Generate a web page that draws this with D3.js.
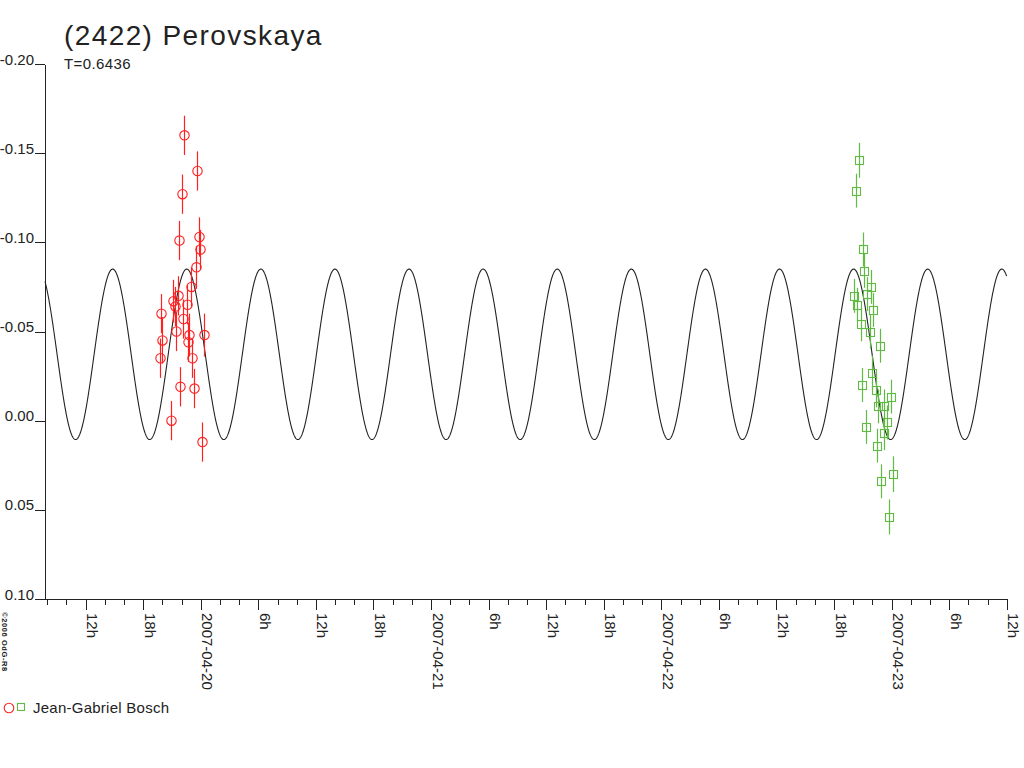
<!DOCTYPE html>
<html>
<head>
<meta charset="utf-8">
<script src="https://cdn.jsdelivr.net/npm/d3@7"></script>
<style>
  body { margin: 0; background: #fff; }
  svg { display: block; font-family: "Liberation Sans", Arial, sans-serif; }
  .axis path, .axis line { stroke: #222; shape-rendering: crispEdges; }
  .axis text { fill: #222; font-size: 15px; }
</style>
</head>
<body>
<div class="container"></div>
<script>
const WIDTH = 1024;
const HEIGHT = 768;

// observer 1 (red circles), night of 2007-04-19/20, UTC
const redTimes = [
  '2007-04-19T22:18', '2007-04-19T23:37', '2007-04-19T22:01', '2007-04-19T21:44',
  '2007-04-19T23:49', '2007-04-19T23:58', '2007-04-19T23:29', '2007-04-19T22:56',
  '2007-04-19T21:38', '2007-04-19T21:07', '2007-04-19T21:16', '2007-04-19T22:31',
  '2007-04-19T19:54', '2007-04-19T22:09', '2007-04-19T22:47', '2007-04-20T00:19',
  '2007-04-19T19:58', '2007-04-19T22:40', '2007-04-19T21:23', '2007-04-19T19:43',
  '2007-04-19T23:05', '2007-04-19T21:53', '2007-04-19T23:18', '2007-04-19T20:54',
  '2007-04-20T00:08'
];
const redMags = [
  -0.160, -0.140, -0.127, -0.101, -0.103, -0.096, -0.086, -0.075,
  -0.070, -0.067, -0.064, -0.065, -0.060, -0.057, -0.048, -0.048,
  -0.045, -0.044, -0.050, -0.035, -0.035, -0.019, -0.018, 0.000,
  0.012
];
const redErrs = [
  0.011, 0.011, 0.011, 0.011, 0.011, 0.011, 0.012, 0.011,
  0.011, 0.012, 0.011, 0.011, 0.011, 0.011, 0.012, 0.012,
  0.013, 0.011, 0.011, 0.011, 0.011, 0.011, 0.011, 0.011,
  0.011
];

// night of 2007-04-22/23 (green squares)
const greenTimes = [
  '2007-04-22T20:35', '2007-04-22T20:17', '2007-04-22T21:03', '2007-04-22T21:09',
  '2007-04-22T20:08', '2007-04-22T20:25', '2007-04-22T21:49', '2007-04-22T21:28',
  '2007-04-22T22:05', '2007-04-22T20:46', '2007-04-22T21:43', '2007-04-22T22:45',
  '2007-04-22T20:54', '2007-04-22T21:59', '2007-04-22T22:20', '2007-04-22T22:34',
  '2007-04-22T23:54', '2007-04-22T23:12', '2007-04-22T23:29', '2007-04-22T21:22',
  '2007-04-22T23:12', '2007-04-22T22:31', '2007-04-23T00:07', '2007-04-22T22:56',
  '2007-04-22T23:43'
];
const greenMags = [
  -0.146, -0.129, -0.096, -0.084, -0.070, -0.065, -0.075, -0.071,
  -0.062, -0.054, -0.050, -0.042, -0.020, -0.027, -0.017, -0.008,
  -0.0135, -0.008, 0.001, 0.0035, 0.007, 0.014, 0.030, 0.034,
  0.054
];
const greenErrs = [
  0.0098, 0.0095, 0.0095, 0.0095, 0.0095, 0.0095, 0.0095, 0.0095,
  0.0095, 0.0095, 0.0095, 0.0095, 0.0095, 0.0095, 0.0095, 0.0095,
  0.0095, 0.0095, 0.0095, 0.0095, 0.0095, 0.0095, 0.0100, 0.0095,
  0.0098
];

const yTicks = [-0.20, -0.15, -0.10, -0.05, 0.00, 0.05, 0.10];
const yTickLabels = ['-0.20', '-0.15', '-0.10', '-0.05', '0.00', '0.05', '0.10'];

// fitted lightcurve (two maxima per rotation period)
const PERIOD_DAYS = 0.6436;
const CURVE_MEAN = -0.0372;
const CURVE_AMP = 0.0478;
const CURVE_TROUGH = '2007-04-21T01:34';

const parse = d3.utcParse('%Y-%m-%dT%H:%M');

var redData = redTimes.map(function(t, i) {
  return {t: parse(t), m: redMags[i], e: redErrs[i]};
});
var greenData = greenTimes.map(function(t, i) {
  return {t: parse(t), m: greenMags[i], e: greenErrs[i]};
});

var svg = d3.select('.container').append('svg')
  .attr('width', WIDTH)
  .attr('height', HEIGHT);

var xScale = d3.scaleUtc()
  .domain([parse('2007-04-19T08:00'), parse('2007-04-23T12:00')])
  .range([47.3, 1006.7]);

var yScale = d3.scaleLinear()
  .domain([-0.20, 0.10])
  .range([64, 599]);

var AXIS_X = 45;
var AXIS_Y = 599;

// y axis
var yAxis = d3.axisLeft(yScale)
  .tickValues(yTicks)
  .tickFormat(function(d, i) { return yTickLabels[i]; })
  .tickSize(10)
  .tickSizeOuter(0);

svg.append('g')
  .attr('class', 'axis')
  .attr('transform', 'translate(' + AXIS_X + ',0)')
  .call(yAxis)
  .call(function(g) {
    g.selectAll('text').attr('x', -11).attr('dy', 0);
  });

// x axis: minor ticks every 2h, labelled ticks every 6h
var minorAxis = d3.axisBottom(xScale)
  .ticks(d3.utcHour.every(2))
  .tickFormat('')
  .tickSize(6)
  .tickSizeOuter(0);

svg.append('g')
  .attr('class', 'axis')
  .attr('transform', 'translate(0,' + AXIS_Y + ')')
  .call(minorAxis)
  .call(function(g) { g.select('.domain').remove(); });

var dayFmt = d3.utcFormat('%Y-%m-%d');
var majorAxis = d3.axisBottom(xScale)
  .ticks(d3.utcHour.every(6))
  .tickFormat(function(d) {
    var h = d.getUTCHours();
    return h === 0 ? dayFmt(d) : h + 'h';
  })
  .tickSize(11)
  .tickSizeOuter(0);

svg.append('g')
  .attr('class', 'axis')
  .attr('transform', 'translate(0,' + AXIS_Y + ')')
  .call(majorAxis)
  .call(function(g) {
    g.select('.domain').remove();
    g.selectAll('text')
      .attr('transform', 'rotate(90)')
      .attr('x', 14)
      .attr('y', -1)
      .attr('dy', 0)
      .style('text-anchor', 'start');
  });

svg.append('line')
  .attr('x1', AXIS_X).attr('x2', xScale.range()[1])
  .attr('y1', AXIS_Y).attr('y2', AXIS_Y)
  .attr('stroke', '#222')
  .attr('shape-rendering', 'crispEdges');

// model curve
var trough = parse(CURVE_TROUGH);
var halfPeriodMs = PERIOD_DAYS * 86400000 / 2;
var tStart = xScale.invert(AXIS_X);
var tEnd = xScale.domain()[1];
var curveData = d3.range(+tStart, +tEnd + 1, 120000).map(function(ms) {
  return {t: new Date(ms),
          m: CURVE_MEAN + CURVE_AMP * Math.cos(2 * Math.PI * (ms - trough) / halfPeriodMs)};
});

var line = d3.line()
  .x(function(d) { return xScale(d.t); })
  .y(function(d) { return yScale(d.m); });

svg.append('path')
  .attr('d', line(curveData))
  .attr('fill', 'none')
  .attr('stroke', '#222')
  .attr('stroke-width', 1.1);

// observations
var RED = '#ff2020';
var GREEN = '#5fbb42';

var drawErrors = function(data, color) {
  svg.append('g').selectAll('line')
    .data(data)
    .enter().append('line')
    .attr('x1', function(d) { return Math.round(xScale(d.t)) + 0.5; })
    .attr('x2', function(d) { return Math.round(xScale(d.t)) + 0.5; })
    .attr('y1', function(d) { return yScale(d.m - d.e); })
    .attr('y2', function(d) { return yScale(d.m + d.e); })
    .attr('stroke', color)
    .attr('stroke-width', 1.2);
};

drawErrors(redData, RED);
drawErrors(greenData, GREEN);

svg.append('g').selectAll('circle')
  .data(redData)
  .enter().append('circle')
  .attr('cx', function(d) { return Math.round(xScale(d.t)) + 0.5; })
  .attr('cy', function(d) { return yScale(d.m); })
  .attr('r', 4.7)
  .attr('fill', 'none')
  .attr('stroke', RED)
  .attr('stroke-width', 1.1);

svg.append('g').selectAll('rect')
  .data(greenData)
  .enter().append('rect')
  .attr('x', function(d) { return Math.round(xScale(d.t)) - 3.5; })
  .attr('y', function(d) { return Math.round(yScale(d.m)) - 3.5; })
  .attr('width', 8)
  .attr('height', 8)
  .attr('fill', 'none')
  .attr('stroke', GREEN)
  .attr('stroke-width', 1.1);

// titles
svg.append('text')
  .attr('x', 64).attr('y', 45)
  .attr('fill', '#222')
  .style('font-size', '28px')
  .style('letter-spacing', '1.4px')
  .text('(2422) Perovskaya');

svg.append('text')
  .attr('x', 64).attr('y', 69)
  .attr('fill', '#222')
  .style('font-size', '15px')
  .style('letter-spacing', '0.4px')
  .text('T=' + PERIOD_DAYS);

// copyright, rotated
svg.append('text')
  .attr('transform', 'translate(1.5,612) rotate(90)')
  .attr('fill', '#222')
  .style('font-size', '7.5px')
  .style('font-weight', 'bold')
  .style('letter-spacing', '0.6px')
  .text('©2006 OdG-R8');

// legend
svg.append('circle')
  .attr('cx', 9).attr('cy', 708).attr('r', 4.8)
  .attr('fill', 'none').attr('stroke', RED).attr('stroke-width', 1.1);
svg.append('rect')
  .attr('x', 17.5).attr('y', 703.5).attr('width', 7).attr('height', 7)
  .attr('fill', 'none').attr('stroke', GREEN).attr('stroke-width', 1.1);
svg.append('text')
  .attr('x', 33).attr('y', 713)
  .attr('fill', '#222')
  .style('font-size', '15px')
  .style('letter-spacing', '0.25px')
  .text('Jean-Gabriel Bosch');
</script>
</body>
</html>
